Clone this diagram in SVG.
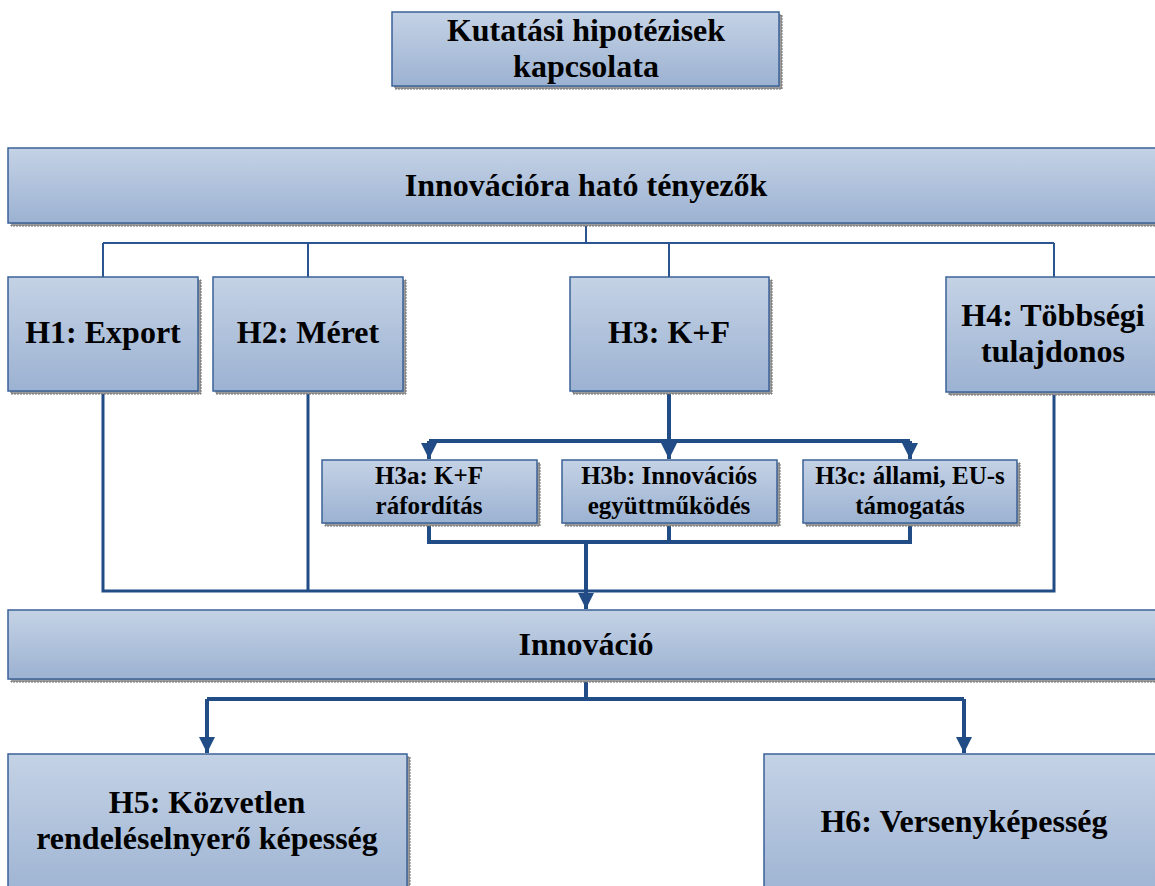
<svg xmlns="http://www.w3.org/2000/svg" width="1155" height="886" viewBox="0 0 1155 886">
<defs>
<linearGradient id="g" x1="0" y1="0" x2="0" y2="1">
<stop offset="0" stop-color="#c4d2e5"/>
<stop offset="1" stop-color="#9cb2d2"/>
</linearGradient>
<marker id="ah" viewBox="0 0 16 16" refX="16" refY="8" markerWidth="16" markerHeight="16" markerUnits="userSpaceOnUse" orient="auto">
<path d="M0,0 L16,8 L0,16 z" fill="#214c85"/>
</marker>
</defs>
<style>
.sh{fill:#9a9a9a;stroke:#6e6e6e;stroke-width:1;stroke-dasharray:2 1}
.bx{fill:url(#g);stroke:#3b6298;stroke-width:1.5}
text{font-family:'Liberation Serif','Times New Roman',serif;font-weight:bold;fill:#000;text-anchor:middle}
.l{font-size:32px}
.s{font-size:25px}
.c1{fill:none;stroke:#2a5590;stroke-width:2}
.c2{fill:none;stroke:#214c85;stroke-width:3}
.c3{fill:none;stroke:#214c85;stroke-width:4}
</style>
<g id="connectors">
<path class="c1" d="M586,223 V243 M103,243 H1054 M103,243 V277 M308,243 V277 M669,243 V277 M1054,243 V277"/>
<path class="c2" d="M103,391 V591 H1054 V392 M308,391 V591"/>
<path class="c3" d="M669,391 V441 M429,441 H910"/>
<path class="c3" d="M429,441 V459" marker-end="url(#ah)"/>
<path class="c3" d="M669,441 V459" marker-end="url(#ah)"/>
<path class="c3" d="M910,441 V459" marker-end="url(#ah)"/>
<path class="c3" d="M429,523 V542 H910 V523 M669,523 V542"/>
<path class="c3" d="M586,542 V609" marker-end="url(#ah)"/>
<path class="c3" d="M586,680 V699 M207,699 H964"/>
<path class="c3" d="M207,699 V753" marker-end="url(#ah)"/>
<path class="c3" d="M964,699 V753" marker-end="url(#ah)"/>
</g>
<g font-family="Liberation Serif, serif" font-weight="bold">
<g id="title">
<rect class="sh" x="395" y="15" width="387" height="74"/>
<rect class="bx" x="392" y="12" width="387" height="74"/>
<text class="l" x="586" y="41">Kutatási hipotézisek</text>
<text class="l" x="586" y="77">kapcsolata</text>
</g>
<g id="factors">
<rect class="sh" x="11" y="151" width="1160" height="75"/>
<rect class="bx" x="8" y="148" width="1160" height="75"/>
<text class="l" x="586" y="196">Innovációra ható tényezők</text>
</g>
<g id="h1">
<rect class="sh" x="11" y="280" width="190" height="114"/>
<rect class="bx" x="8" y="277" width="190" height="114"/>
<text class="l" x="103" y="343">H1: Export</text>
</g>
<g id="h2">
<rect class="sh" x="216" y="280" width="190" height="114"/>
<rect class="bx" x="213" y="277" width="190" height="114"/>
<text class="l" x="308" y="343">H2: Méret</text>
</g>
<g id="h3">
<rect class="sh" x="573" y="280" width="199" height="114"/>
<rect class="bx" x="570" y="277" width="199" height="114"/>
<text class="l" x="669" y="343">H3: K+F</text>
</g>
<g id="h4">
<rect class="sh" x="949" y="280" width="220" height="115"/>
<rect class="bx" x="946" y="277" width="220" height="115"/>
<text class="l" x="1053" y="326">H4: Többségi</text>
<text class="l" x="1053" y="362">tulajdonos</text>
</g>
<g id="h3a">
<rect class="sh" x="325" y="463" width="215" height="63"/>
<rect class="bx" x="322" y="460" width="215" height="63"/>
<text class="s" x="429" y="484">H3a: K+F</text>
<text class="s" x="429" y="514">ráfordítás</text>
</g>
<g id="h3b">
<rect class="sh" x="565" y="463" width="215" height="63"/>
<rect class="bx" x="562" y="460" width="215" height="63"/>
<text class="s" x="669" y="484">H3b: Innovációs</text>
<text class="s" x="669" y="514">együttműködés</text>
</g>
<g id="h3c">
<rect class="sh" x="806" y="463" width="214" height="63"/>
<rect class="bx" x="803" y="460" width="214" height="63"/>
<text class="s" x="910" y="484">H3c: állami, EU-s</text>
<text class="s" x="910" y="514">támogatás</text>
</g>
<g id="innovacio">
<rect class="sh" x="11" y="613" width="1160" height="69"/>
<rect class="bx" x="8" y="610" width="1160" height="69"/>
<text class="l" x="586" y="655">Innováció</text>
</g>
<g id="h5">
<rect class="sh" x="11" y="757" width="399" height="150"/>
<rect class="bx" x="8" y="754" width="399" height="150"/>
<text class="l" x="207" y="813">H5: Közvetlen</text>
<text class="l" x="207" y="849">rendeléselnyerő képesség</text>
</g>
<g id="h6">
<rect class="sh" x="767" y="757" width="400" height="150"/>
<rect class="bx" x="764" y="754" width="400" height="150"/>
<text class="l" x="964" y="832">H6: Versenyképesség</text>
</g>
</g>
</svg>
